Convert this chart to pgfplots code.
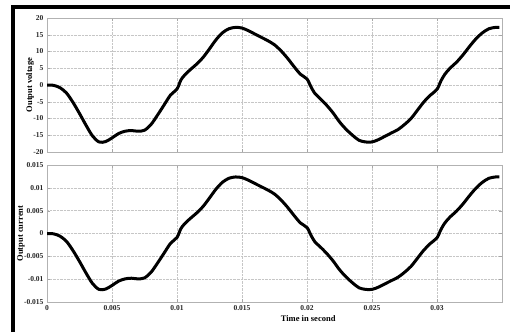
\documentclass[border=0pt]{standalone}
\usepackage{fontspec}
\setmainfont{Liberation Serif}
\usepackage{pgfplots}
\pgfplotsset{compat=1.18}
\usepackage{pgfplotstable}
\pgfplotstableread{
t v
0 0
0.0005 -0.1
0.001 -0.8
0.0015 -2.4
0.002 -5.2
0.0025 -8.5
0.003 -12
0.0035 -15.2
0.004 -17
0.0045 -16.9
0.005 -15.8
0.0055 -14.5
0.006 -13.8
0.0065 -13.6
0.007 -13.8
0.0075 -13.5
0.008 -11.8
0.0085 -9
0.009 -6
0.0095 -3
0.01 -1.2
0.0103 1.5
0.0106 3
0.011 4.5
0.0115 6.2
0.012 8.2
0.0125 10.8
0.013 13.5
0.0135 15.6
0.014 16.8
0.0145 17.2
0.015 17
0.0155 16.2
0.016 15.2
0.0165 14.2
0.017 13.2
0.0175 12
0.018 10.2
0.0185 8
0.019 5.5
0.0195 3.2
0.02 1.8
0.0203 -0.5
0.0206 -2.5
0.021 -4
0.0215 -6
0.022 -8.3
0.0225 -11
0.023 -13.2
0.0235 -15
0.024 -16.5
0.0245 -17
0.025 -17
0.0255 -16.3
0.026 -15.3
0.0265 -14.3
0.027 -13.3
0.0275 -11.8
0.028 -10
0.0285 -7.5
0.029 -5
0.0295 -3
0.03 -1.3
0.0303 1.2
0.0306 3.2
0.031 5
0.0315 6.8
0.032 9
0.0325 11.5
0.033 13.8
0.0335 15.6
0.034 16.8
0.0345 17.2
0.0348 17.2
}\voltage
\pgfplotstableread{
t i
0 0
0.0005 -0.00007
0.001 -0.00058
0.0015 -0.00173
0.002 -0.00374
0.0025 -0.00612
0.003 -0.00864
0.0035 -0.01094
0.004 -0.01224
0.0045 -0.01217
0.005 -0.01138
0.0055 -0.01044
0.006 -0.00994
0.0065 -0.00979
0.007 -0.00994
0.0075 -0.00972
0.008 -0.0085
0.0085 -0.00648
0.009 -0.00432
0.0095 -0.00216
0.01 -0.00086
0.0103 0.00108
0.0106 0.00216
0.011 0.00324
0.0115 0.00446
0.012 0.0059
0.0125 0.00778
0.013 0.00972
0.0135 0.01123
0.014 0.0121
0.0145 0.01238
0.015 0.01224
0.0155 0.01166
0.016 0.01094
0.0165 0.01022
0.017 0.0095
0.0175 0.00864
0.018 0.00734
0.0185 0.00576
0.019 0.00396
0.0195 0.0023
0.02 0.0013
0.0203 -0.00036
0.0206 -0.0018
0.021 -0.00288
0.0215 -0.00432
0.022 -0.00598
0.0225 -0.00792
0.023 -0.0095
0.0235 -0.0108
0.024 -0.01188
0.0245 -0.01224
0.025 -0.01224
0.0255 -0.01174
0.026 -0.01102
0.0265 -0.0103
0.027 -0.00958
0.0275 -0.0085
0.028 -0.0072
0.0285 -0.0054
0.029 -0.0036
0.0295 -0.00216
0.03 -0.00094
0.0303 0.00086
0.0306 0.0023
0.031 0.0036
0.0315 0.0049
0.032 0.00648
0.0325 0.00828
0.033 0.00994
0.0335 0.01123
0.034 0.0121
0.0345 0.01238
0.0348 0.01238
}\current
\pgfplotsset{
  mystyle/.style={
    scale only axis, width=455bp,
    xmin=0, xmax=0.035,
    xtick={0,0.005,...,0.03},
    scaled x ticks=false, scaled y ticks=false,
    grid=major,
    grid style={densely dotted, gray!45},
    axis line style={gray!60},
    tick style={gray!70, major tick length=3bp},
    tick align=inside,
    ticklabel style={font=\fontsize{7.5bp}{8bp}\selectfont\bfseries, text=black!85},
    label style={font=\fontsize{8.5bp}{9bp}\selectfont\bfseries},
    /pgf/number format/assume math mode=true,
    /pgf/number format/fixed,
    /pgf/number format/precision=3,
  }
}
\begin{document}
\begin{tikzpicture}[x=1bp,y=1bp]
\useasboundingbox (0,0) rectangle (510,332);
\fill[white] (0,0) rectangle (510,332);
\begin{axis}[mystyle,
  at={(47bp,180bp)}, anchor=south west, height=134bp,
  ymin=-20, ymax=20, ytick={-20,-15,...,20},
  xticklabels={},
  ylabel={Output voltage},
  ylabel style={at={(axis description cs:-0.037,0.5)}, anchor=center},
]
\addplot[black, line width=3bp, smooth] table[x=t,y=v] {\voltage};
\end{axis}
\begin{axis}[mystyle,
  at={(47bp,30bp)}, anchor=south west, height=137bp,
  ymin=-0.015, ymax=0.015, ytick={-0.015,-0.01,...,0.0151},
  ylabel={Output current},
  xlabel={Time in second},
  ylabel style={at={(axis description cs:-0.057,0.5)}, anchor=center},
  xlabel style={at={(ticklabel cs:0.574)}, yshift=2bp},
]
\addplot[black, line width=3bp, smooth] table[x=t,y=i] {\current};
\end{axis}
\draw[line width=4bp] (13,0) -- (13,325) -- (510,325);
\end{tikzpicture}
\end{document}
